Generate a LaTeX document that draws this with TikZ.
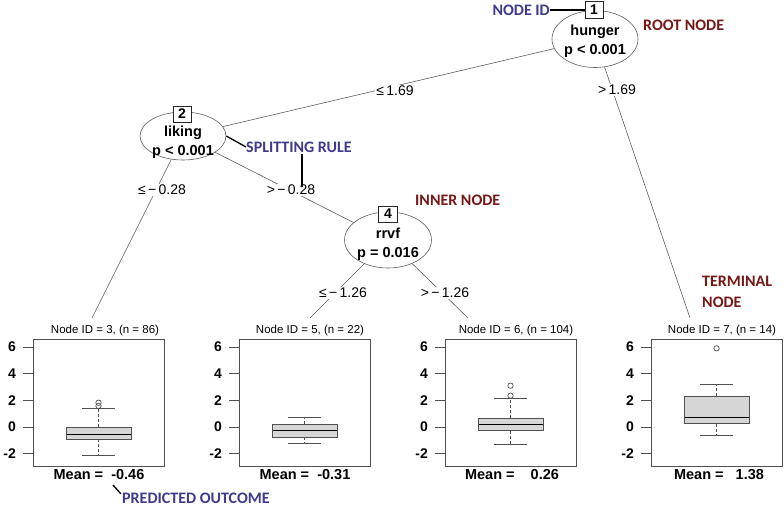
\documentclass[tikz,border=0pt]{standalone}
\usepackage{fontspec}
\setmainfont{Liberation Sans}
\newfontfamily\annfont{Carlito}
\usetikzlibrary{shapes.geometric}
\definecolor{annblue}{RGB}{62,58,140}
\definecolor{annred}{RGB}{118,24,24}
\definecolor{edgegray}{RGB}{95,95,95}
\definecolor{framegray}{RGB}{80,80,80}
\definecolor{boxfill}{RGB}{214,214,214}
\tikzset{
  inner/.style={ellipse, draw=edgegray, line width=0.6pt, minimum width=86pt, minimum height=55pt,
    inner sep=0pt},
  itext/.style={align=center, inner sep=0pt, font=\fontsize{14.5}{19}\selectfont\bfseries},
  idbox/.style={draw=black!85, fill=white, line width=0.8pt, minimum width=18pt, minimum height=17pt,
    inner sep=0pt, font=\fontsize{14}{14}\selectfont\bfseries},
  edge/.style={draw=edgegray, line width=0.6pt},
  elab/.style={fill=white, inner sep=1pt, font=\fontsize{14}{14}\selectfont},
  ptitle/.style={font=\fontsize{11.5}{12}\selectfont, inner sep=0pt},
  frame/.style={draw=framegray, line width=0.8pt},
  ticklab/.style={anchor=east, font=\fontsize{14}{14}\selectfont\bfseries, inner sep=0pt},
  meanlab/.style={font=\fontsize{14.5}{15}\selectfont\bfseries, inner sep=0pt},
  whisk/.style={draw=framegray, line width=0.7pt, dash pattern=on 3pt off 2pt},
  capline/.style={draw=framegray, line width=0.8pt},
  boxs/.style={draw=framegray, fill=boxfill, line width=0.8pt},
  med/.style={draw=black, line width=1.6pt},
  outl/.style={draw=framegray, line width=0.7pt},
  annb/.style={text=annblue, font=\annfont\fontsize{16}{19}\selectfont\bfseries, inner sep=0pt},
  annr/.style={text=annred, font=\annfont\fontsize{16}{21}\selectfont\bfseries, inner sep=0pt, align=left},
  annline/.style={draw=black, line width=1.3pt}
}
% #1 panel id, #2 frame left x, #3 box low, #4 median, #5 box high, #6 whisker low, #7 whisker high
\newcommand\bxpanel[7]{%
  \begin{scope}[xshift=#2pt, yshift=-427pt, y=13.333pt]
    \draw[frame] (0,-2.93) rectangle (131,6.6);
    \foreach \v [count=\i] in {-2,0,2,4,6} {
      \draw[frame] (-10,\v) -- (0,\v);
      \node[ticklab] (tk#1x\i) at (-17,\v) {\v};
    }
    \draw[whisk] (65.5,#5) -- (65.5,#7);
    \draw[whisk] (65.5,#3) -- (65.5,#6);
    \draw[capline] (49,#7) -- (82,#7);
    \draw[capline] (49,#6) -- (82,#6);
    \draw[boxs] (33,#3) rectangle (98,#5);
    \draw[med] (33.5,#4) -- (97.5,#4);
  \end{scope}}
\newcommand\bxoutlier[2]{%
  \begin{scope}[xshift=#1pt, yshift=-427pt, y=13.333pt]
    \draw[outl] (65.5,#2) circle (2.7pt);
  \end{scope}}
\begin{document}
\begin{tikzpicture}[x=1pt,y=-1pt]
\useasboundingbox (0,0) rectangle (784,506);
\fill[white] (0,0) rectangle (784,506);

% inner nodes
\node[inner, minimum height=57pt] (n1) at (595,39) {};
\node[inner, minimum height=48pt] (n2) at (183,136) {};
\node[inner, minimum height=56pt, minimum width=87pt] (n4) at (388,240) {};
\node[itext] (n1t) at (595,41) {hunger\\p < 0.001};
\node[itext] (n2t) at (183,142) {liking\\p < 0.001};
\node[itext] (n4t) at (388,244) {rrvf\\p = 0.016};
\node[idbox] (b1) at (594,10) {1};
\node[idbox, minimum height=16pt] (b2) at (182,114) {2};
\node[idbox, minimum height=16pt, minimum width=19pt] (b4) at (388,214) {4};

% terminal ends
\coordinate (t3) at (92,318);
\coordinate (t5) at (310,318);
\coordinate (t6) at (468,318);
\coordinate (t7) at (690,318);

% edges
\draw[edge] (n1) -- (n2);
\draw[edge] (n1) -- (t7);
\draw[edge] (n2) -- (t3);
\draw[edge] (n2) -- (n4);
\draw[edge] (n4) -- (t5);
\draw[edge] (n4) -- (t6);

% edge labels
\node[elab] (l1) at (395,91) {≤\,1.69};
\node[elab] (l2) at (617,90) {>\,1.69};
\node[elab] (l3) at (162,190) {≤\,−\,0.28};
\node[elab] (l4) at (291,190) {>\,−\,0.28};
\node[elab] (l5) at (343,293) {≤\,−\,1.26};
\node[elab] (l6) at (445,293) {>\,−\,1.26};

% panels
\bxpanel{a}{33}{-0.92}{-0.55}{0}{-2.1}{1.4}
\bxoutlier{33}{1.58}
\bxoutlier{33}{1.82}
\bxpanel{b}{239}{-0.75}{-0.25}{0.2}{-1.25}{0.7}
\bxpanel{c}{445}{-0.28}{0.2}{0.65}{-1.3}{2.15}
\bxoutlier{445}{2.35}
\bxoutlier{445}{3.1}
\bxpanel{d}{651}{0.25}{0.7}{2.3}{-0.6}{3.2}
\bxoutlier{651}{5.9}

\node[ptitle] (pt3) at (105,331) {Node ID = 3, (n = 86)};
\node[ptitle] (pt5) at (310,331) {Node ID = 5, (n = 22)};
\node[ptitle] (pt6) at (516,331) {Node ID = 6, (n = 104)};
\node[ptitle] (pt7) at (722,331) {Node ID = 7, (n = 14)};

\node[meanlab] (m3) at (99,475) {Mean =\ \ -0.46};
\node[meanlab] (m5) at (305,475) {Mean =\ \ -0.31};
\node[meanlab] (m6) at (512,475) {Mean =\ \ \ \ 0.26};
\node[meanlab] (m7) at (719,475) {Mean =\ \ \ 1.38};

% annotations
\node[annb, anchor=east] (nid) at (550,10) {NODE ID};
\draw[annline] (nid.east) -- (b1.west);
\node[annr, anchor=west] (root) at (643,25) {ROOT NODE};
\node[annb, anchor=west] (split) at (246,147) {SPLITTING RULE};
\draw[annline] (n2.east) -- (split.west);
\coordinate (sp1) at (302,154);
\coordinate (sp2) at (302,187);
\draw[annline] (sp1) -- (sp2);
\node[annr, anchor=west] (inner) at (415,200) {INNER NODE};
\node[annr, anchor=west] (term) at (702,292) {TERMINAL\\NODE};
\node[annb, anchor=west] (pred) at (122,498) {PREDICTED OUTCOME};
\coordinate (pr1) at (113,485);
\coordinate (pr2) at (121,494);
\draw[annline] (pr1) -- (pr2);
\end{tikzpicture}
\end{document}
